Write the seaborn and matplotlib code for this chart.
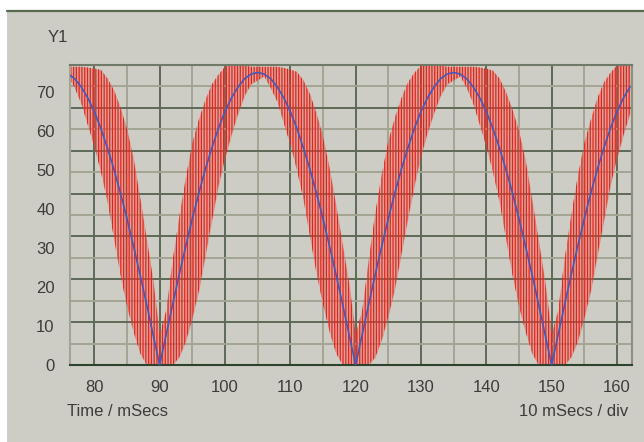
import numpy as np
import pandas as pd
import matplotlib
matplotlib.use('Agg')
import matplotlib.pyplot as plt
from matplotlib.patches import Rectangle
from matplotlib.lines import Line2D
import seaborn as sns

# time axis, 1 ms steps
time_ms = list(range(76, 163))

# blue trace (Y1 mean)
blue = [74.6, 73.4, 71.3, 68.5, 65.0, 60.7, 55.7, 50.2, 44.1, 37.5, 30.5, 23.2, 15.6, 7.8, 0.0,
        7.8, 15.6, 23.2, 30.5, 37.5, 44.1, 50.2, 55.7, 60.7, 65.0, 68.5, 71.3, 73.4, 74.6, 75.0,
        74.6, 73.4, 71.3, 68.5, 65.0, 60.7, 55.7, 50.2, 44.1, 37.5, 30.5, 23.2, 15.6, 7.8, 0.0,
        7.8, 15.6, 23.2, 30.5, 37.5, 44.1, 50.2, 55.7, 60.7, 65.0, 68.5, 71.3, 73.4, 74.6, 75.0,
        74.6, 73.4, 71.3, 68.5, 65.0, 60.7, 55.7, 50.2, 44.1, 37.5, 30.5, 23.2, 15.6, 7.8, 0.0,
        7.8, 15.6, 23.2, 30.5, 37.5, 44.1, 50.2, 55.7, 60.7, 65.0, 68.5, 71.3]

# red band: top and bottom of the fast oscillation
red_hi = [76.5, 76.5, 76.5, 76.3, 76.0, 75.7, 73.5, 70.5, 66.0, 60.5, 53.0, 43.0, 32.5, 22.0, 8.0,
          14.0, 27.0, 38.0, 48.0, 57.0, 63.0, 68.0, 72.0, 74.5, 76.5, 77.0, 77.0, 76.8, 76.5, 76.5,
          76.5, 76.5, 76.5, 76.2, 75.8, 75.2, 73.0, 69.5, 64.5, 58.5, 50.5, 41.0, 31.0, 21.0, 8.0,
          14.0, 27.0, 39.0, 49.0, 57.5, 63.5, 68.5, 72.5, 75.0, 76.8, 77.0, 77.0, 76.8, 76.5, 76.5,
          76.5, 76.5, 76.5, 76.3, 76.0, 75.5, 73.5, 70.0, 65.5, 60.0, 52.5, 42.5, 32.0, 21.5, 8.0,
          14.0, 27.5, 38.5, 48.5, 57.0, 63.0, 68.5, 72.5, 75.0, 76.8, 77.0, 77.0]
red_lo = [74.0, 71.0, 67.0, 61.5, 56.0, 49.5, 42.0, 32.5, 23.0, 15.0, 8.5, 3.0, 0.0, 0.0, 0.0,
          0.0, 0.0, 2.0, 6.0, 12.0, 19.0, 28.0, 37.0, 46.0, 53.0, 59.0, 64.5, 69.0, 72.0, 73.0,
          74.0, 71.0, 67.5, 62.0, 56.5, 50.0, 42.5, 33.0, 23.5, 15.5, 8.5, 3.0, 0.0, 0.0, 0.0,
          0.0, 0.0, 2.0, 6.5, 12.5, 19.5, 28.5, 37.5, 46.0, 53.5, 59.5, 64.5, 69.0, 72.0, 73.0,
          74.0, 71.0, 67.0, 61.5, 56.0, 49.5, 42.0, 32.5, 23.0, 15.0, 8.5, 3.0, 0.0, 0.0, 0.0,
          0.0, 0.0, 2.0, 6.0, 12.0, 19.0, 28.0, 37.0, 46.0, 53.0, 59.0, 64.5]

x_ticks = [80, 90, 100, 110, 120, 130, 140, 150, 160]
y_labels = [0, 10, 20, 30, 40, 50, 60, 70]

df = pd.DataFrame({"time": time_ms, "y1": blue})

sns.set_style("white")
plt.rcParams['font.family'] = ['Liberation Sans', 'DejaVu Sans']
plt.rcParams['hatch.linewidth'] = 0.9

BG = '#cecdc5'
TXT = '#3c3c3c'
FS = 12
fig = plt.figure(figsize=(6.44, 4.42), dpi=100)
fig.patch.set_facecolor('white')
fig.add_artist(Rectangle((7 / 644, 0), 1, 1 - 11 / 442, transform=fig.transFigure,
                         facecolor=BG, edgecolor='none', zorder=-10))
fig.add_artist(Line2D([7 / 644, 1], [1 - 10.5 / 442] * 2, transform=fig.transFigure,
                      color='#56694f', lw=1.6))

ax = fig.add_axes([70 / 644, 77 / 442, 562 / 644, 300 / 442])
ax.set_facecolor(BG)

# red oscillation band
ax.fill_between(time_ms, red_lo, red_hi, facecolor='#e5584a', alpha=0.35, linewidth=0, zorder=2)
ax.fill_between(time_ms, red_lo, red_hi, facecolor='none', edgecolor='#e8231b',
                hatch='||||||', linewidth=0, zorder=2.1)

sns.lineplot(data=df, x="time", y="y1", ax=ax, color='#4757b8', lw=1.2, zorder=3)

ax.set_xlim(76.28, 162.3)
ymax = 76.92
ax.set_ylim(0, ymax)

ax.set_xticks(x_ticks)
ax.set_xticks([85, 95, 105, 115, 125, 135, 145, 155], minor=True)
ax.set_yticks(np.linspace(0, ymax, 8))
ax.set_yticks(np.linspace(ymax / 14, ymax * 13 / 14, 7), minor=True)
ax.set_yticklabels([])
ax.set_xlabel('')
ax.set_ylabel('')

ax.grid(which='major', color='#5d6a57', lw=1.4)
ax.grid(which='minor', color='#a4a495', lw=1.4)
ax.set_axisbelow(True)

ax.tick_params(axis='both', which='major', length=6, width=1.3, color='#2e432e',
               labelsize=FS, labelcolor=TXT, pad=5)
ax.tick_params(axis='both', which='minor', length=0)

sec = ax.secondary_yaxis('left')
sec.set_yticks(y_labels)
sec.tick_params(length=0, pad=11, labelsize=FS, labelcolor=TXT)
sec.spines['left'].set_visible(False)

ax.spines['left'].set_color('#a4a495')
ax.spines['right'].set_color('#8c8e80')
ax.spines['top'].set_color('#6f7a68')
ax.spines['bottom'].set_color('#2e432e')
for s in ax.spines.values():
    s.set_linewidth(1.5)

fig.text(58 / 644, 1 - 37 / 442, 'Y1', ha='center', va='center', size=FS, color=TXT)
fig.text(67 / 644, 1 - 411 / 442, 'Time / mSecs', ha='left', va='center', size=FS, color=TXT)
fig.text(628 / 644, 1 - 411 / 442, '10 mSecs / div', ha='right', va='center', size=FS, color=TXT)

fig.savefig('out.png', dpi=100)
